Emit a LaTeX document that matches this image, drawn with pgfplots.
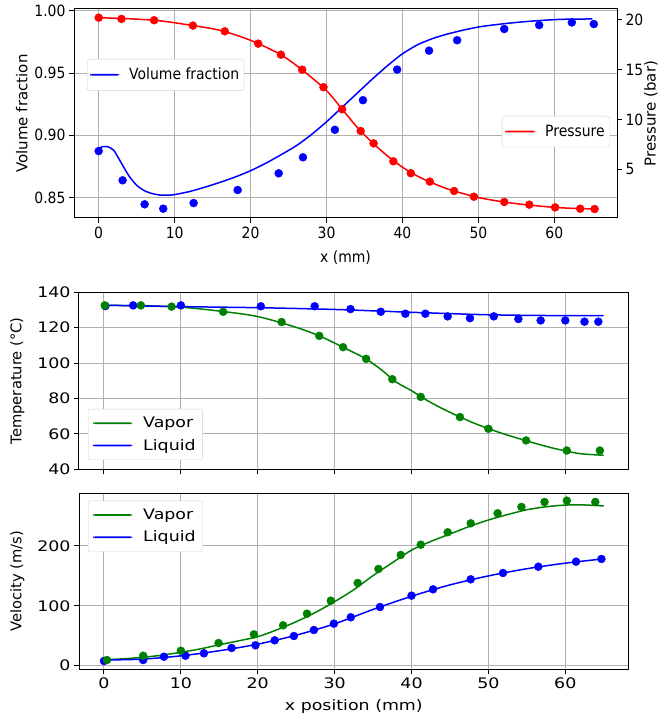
\documentclass[border=0pt]{standalone}
\usepackage{pgfplots}
\pgfplotsset{compat=1.18}
\usepackage{fontspec}
\setmainfont{DejaVu Sans}
\newfontfamily\topfont[FakeStretch=0.9]{DejaVu Sans}
\newfontfamily\botfont[FakeStretch=1.2]{DejaVu Sans}
\definecolor{gridgray}{RGB}{176,176,176}
\definecolor{leggray}{RGB}{210,210,210}
\definecolor{mplgreen}{RGB}{0,128,0}
\definecolor{mplblue}{RGB}{0,0,255}
\definecolor{mplred}{RGB}{255,0,0}
\pgfplotsset{
  common/.style={
    scale only axis, anchor=south west,
    xmin=-3.25, xmax=68.25, xtick={0,10,...,60},
    /pgf/number format/assume math mode=true,
    axis line style={line width=1pt, black},
    tick style={line width=1pt, black},
    tick align=outside, major tick length=5pt,
    xtick pos=left, ytick pos=left,
    grid=major, grid style={color=gridgray, line width=1pt},
    legend cell align=left,
  },
  topfnt/.style={
    tick label style={font=\topfont\fontsize{15.5}{18}\selectfont},
    label style={font=\fontsize{15}{18}\selectfont},
    xlabel style={font=\topfont\fontsize{15.5}{18}\selectfont},
    xlabel shift=6pt,
    legend style={font=\topfont\fontsize{15.5}{18}\selectfont, draw=leggray, rounded corners=2pt,
      fill=white, inner xsep=3pt, inner ysep=7pt,
      /tikz/every odd column/.style={column sep=8pt}},
  },
  botfnt/.style={
    tick label style={font=\botfont\fontsize{14.5}{17}\selectfont},
    label style={font=\fontsize{14.7}{17}\selectfont},
    xlabel style={font=\botfont\fontsize{14.5}{17}\selectfont},
    ylabel shift=6pt,
    legend style={font=\botfont\fontsize{14.5}{17}\selectfont, draw=leggray, rounded corners=2pt,
      fill=white, inner xsep=5pt, inner ysep=6pt,
      row sep=6pt,
      /tikz/every odd column/.style={column sep=9pt}},
  },
}
\pgfplotstableread{
x y
0.0 0.8873
3.15 0.8638
6.05 0.8445
8.5 0.8410
12.5 0.8455
18.3 0.8560
23.7 0.8694
26.9 0.8823
31.1 0.9044
34.8 0.9282
39.3 0.9528
43.5 0.9680
47.2 0.9764
53.4 0.9854
58.0 0.9886
62.3 0.9907
65.2 0.9894
}\vfdots
\pgfplotstableread{
x y
0 0.8895
0.5 0.8908
1.2 0.8908
2 0.8878
3 0.8775
4 0.8672
5 0.8598
6 0.8555
7 0.8532
8 0.8520
9 0.8518
10 0.8523
12 0.8548
14 0.8583
16 0.8622
18 0.8665
20 0.8715
22 0.8775
24 0.8843
26 0.8915
28 0.9005
30 0.9108
32 0.9222
34 0.9336
36 0.9450
38 0.9558
40 0.9655
42 0.9728
44 0.9778
46 0.9815
48 0.9845
50 0.9870
52 0.9887
55 0.9907
58 0.9922
61 0.9932
65 0.9935
}\vfline
\pgfplotstableread{
x y
0.0 20.23
3.0 20.10
7.3 19.97
12.4 19.43
16.6 18.86
21.0 17.62
24.0 16.51
26.8 15.00
29.6 13.24
32.05 11.03
34.5 8.84
36.2 7.60
38.8 5.80
41.1 4.60
43.6 3.75
46.8 2.81
49.4 2.24
53.4 1.71
56.7 1.44
60.1 1.17
63.4 1.03
65.3 1.00
}\pdots
\pgfplotstableread{
x y
0 20.22
4 20.12
8 19.92
12 19.48
16 18.95
20 17.95
24 16.50
27 14.85
30 12.90
32 11.08
34 9.25
36 7.70
38 6.35
40 5.20
42 4.30
44 3.60
46 3.00
48 2.55
50 2.15
53 1.75
56 1.45
60 1.17
63 1.05
65 1.02
}\pline
\pgfplotstableread{
x y
0.1 132.6
4.8 132.6
8.8 131.9
15.5 129.0
23.1 123.2
28.0 115.4
31.1 109.0
34.1 102.4
37.5 90.9
41.2 80.9
46.3 69.5
50.0 62.9
54.9 56.3
60.2 50.6
64.5 50.6
}\tvdots
\pgfplotstableread{
x y
0 132.6
5 132.4
10 131.6
15 129.4
20 126.3
25 120.2
28 115.4
30 111.3
32 107.0
34 102.6
36 96.5
38 89.3
40 84.4
42 79.0
44 74.3
46 70.2
48 66.3
50 63.0
52 60.0
55 56.0
58 52.4
60 50.4
62 48.8
65 47.9
}\tvline
\pgfplotstableread{
x y
0.17 132.2
3.8 132.6
10.0 132.6
20.4 132.1
27.4 132.1
32.06 130.5
36.0 129.0
39.2 127.9
41.8 127.9
44.7 126.4
47.6 125.4
50.7 126.4
53.9 124.9
56.8 124.1
60.0 124.1
62.5 123.4
64.3 123.4
}\tldots
\pgfplotstableread{
x y
0 132.7
10 131.9
20 131.3
30 130.3
40 128.7
50 127.3
60 126.8
65 126.8
}\tlline
\pgfplotstableread{
x y
0.39 9.5
5.1 16.7
10.0 25.0
14.9 37.9
19.5 52.4
23.3 67.5
26.4 86.9
29.5 108.6
33.0 138.2
35.7 161.6
38.6 185.0
41.2 202.2
44.7 222.9
47.7 237.9
51.2 254.6
54.3 265.2
57.3 273.5
60.2 275.7
63.9 273.5
}\uvdots
\pgfplotstableread{
x y
0 10.0
2.5 11.5
5 14.0
7.5 17.5
10 22.4
12.5 28.0
15 35.0
17.5 41.5
20 48.5
22.5 60.0
25 73.5
27.5 89.0
30 107.0
32.5 127.0
35 150.5
37.5 172.0
40 193.0
42.5 207.5
45 220.0
47.5 232.5
50 243.4
52.5 252.5
55 260.5
57.5 265.5
60 268.3
62.5 268.5
65 266.8
}\uvline
\pgfplotstableread{
x y
0.0 7.9
5.1 9.5
7.8 15.0
10.6 16.7
13.0 20.7
16.6 29.6
19.7 34.1
22.2 42.4
24.7 49.6
27.3 59.6
29.9 70.2
32.1 80.9
35.9 98.1
40.0 117.0
42.8 127.6
47.7 144.3
51.9 154.9
56.5 165.4
61.4 173.8
64.7 178.3
}\uldots
\pgfplotstableread{
x y
0 9.5
5 11.0
10 16.5
15 25.0
20 36.0
25 51.0
30 70.0
35 94.0
40 116.0
45 135.0
50 150.0
55 162.0
60 171.3
65 178.5
}\ulline
\begin{document}
\begin{tikzpicture}
% ---------- top: volume fraction (left axis) ----------
\begin{axis}[common, topfnt,
  at={(74pt,501pt)}, width=543pt, height=209pt,
  ymin=0.8335, ymax=1.0015, ytick={0.85,0.90,0.95,1.00},
  yticklabel style={/pgf/number format/.cd, fixed, fixed zerofill, precision=2},
  xlabel={x (mm)}, ylabel={Volume fraction},
  legend style={at={(0.024,0.761)}, anchor=north west},
  legend image code/.code={\fill[#1, draw=none] (0pt,-0.85pt) rectangle (29pt,0.85pt);},
]
\addplot[mplblue, line width=1.5pt, smooth, tension=0.4] table {\vfline};
\addlegendentry{Volume fraction}
\addplot[only marks, mark=*, mark size=4pt, color=mplblue, forget plot] table {\vfdots};
\end{axis}
% ---------- top: pressure (right axis) ----------
\begin{axis}[common, topfnt,
  at={(74pt,501pt)}, width=543pt, height=209pt,
  grid=none, axis x line=none, axis y line*=right, ytick pos=right,
  ymin=0.1, ymax=21.1, ytick={5,10,15,20},
  ylabel={Pressure (bar)}, ylabel shift=-6pt,
  legend style={at={(0.987,0.488)}, anchor=north east},
  legend image code/.code={\fill[#1, draw=none] (0pt,-0.85pt) rectangle (30pt,0.85pt);},
]
\addplot[mplred, line width=1.5pt, smooth, tension=0.5] table {\pline};
\addlegendentry{Pressure}
\addplot[only marks, mark=*, mark size=4pt, color=mplred, forget plot] table {\pdots};
\end{axis}
% ---------- middle: temperature ----------
\begin{axis}[common, botfnt,
  at={(79pt,249.7pt)}, width=549.7pt, height=177pt,
  ymin=40, ymax=140, ytick={40,60,...,140},
  xticklabels={},
  ylabel={Temperature (°C)},
  legend style={at={(0.0164,0.341)}, anchor=north west},
  legend image code/.code={\fill[#1, draw=none] (0pt,-0.85pt) rectangle (39pt,0.85pt);},
]
\addplot[mplgreen, line width=1.5pt, smooth, tension=0.5] table {\tvline};
\addlegendentry{Vapor}
\addplot[mplblue, line width=1.5pt, smooth, tension=0.5] table {\tlline};
\addlegendentry{Liquid}
\addplot[only marks, mark=*, mark size=4pt, color=mplblue, forget plot] table {\tldots};
\addplot[only marks, mark=*, mark size=4pt, color=mplgreen, forget plot] table {\tvdots};
\end{axis}
% ---------- bottom: velocity ----------
\begin{axis}[common, botfnt,
  at={(79pt,49.7pt)}, width=549.7pt, height=176pt,
  ymin=-6, ymax=288, ytick={0,100,200},
  xlabel={x position (mm)}, xlabel shift=4pt, ylabel={Velocity (m/s)},
  legend style={at={(0.0164,0.958)}, anchor=north west},
  legend image code/.code={\fill[#1, draw=none] (0pt,-0.85pt) rectangle (39pt,0.85pt);},
]
\addplot[mplgreen, line width=1.5pt, smooth, tension=0.5] table {\uvline};
\addlegendentry{Vapor}
\addplot[mplblue, line width=1.5pt, smooth, tension=0.5] table {\ulline};
\addlegendentry{Liquid}
\addplot[only marks, mark=*, mark size=4pt, color=mplblue, forget plot] table {\uldots};
\addplot[only marks, mark=*, mark size=4pt, color=mplgreen, forget plot] table {\uvdots};
\end{axis}
\pgfresetboundingbox
\path[use as bounding box] (0pt,0pt) rectangle (658pt,719pt);
\end{tikzpicture}
\end{document}
